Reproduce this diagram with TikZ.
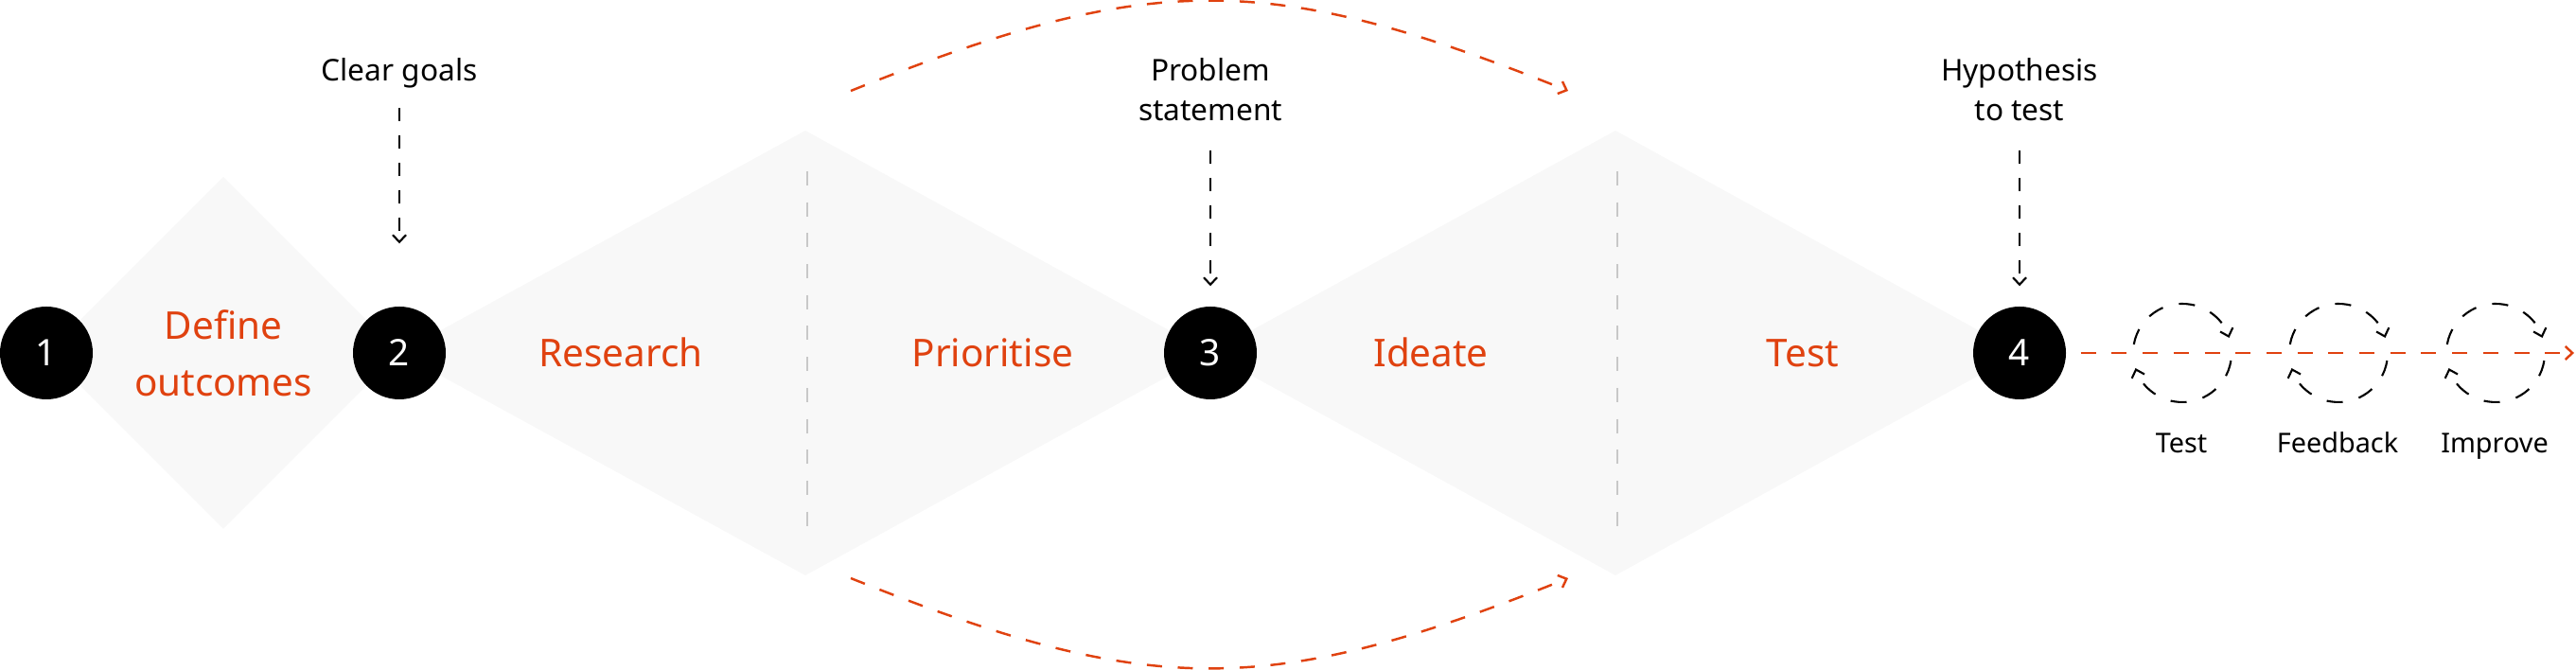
\documentclass[tikz,border=0pt]{standalone}
\usepackage{fontspec}
\setmainfont{Noto Sans}
\usetikzlibrary{arrows.meta,positioning}
\definecolor{flame}{RGB}{224,66,16}
\definecolor{paper}{HTML}{F8F8F8}
\definecolor{rule}{HTML}{C8C8C8}
\tikzset{
  stage/.style={circle, fill=black, text=white, minimum size=0.98cm, inner sep=0pt, font=\fontsize{11}{13}\selectfont},
  phase/.style={text=flame, font=\fontsize{11.5}{17}\selectfont, align=center, inner sep=0pt},
  note/.style={font=\fontsize{9}{12}\selectfont, align=center, inner sep=0pt},
  small/.style={font=\fontsize{8.2}{10}\selectfont, inner sep=0pt},
  input/.style={-{Straight Barb[length=0.75mm,width=1.4mm]}, line width=0.6pt, dash pattern=on 1.4mm off 1.5mm},
  flow/.style={flame, -{Straight Barb[length=0.75mm,width=1.4mm]}, line width=0.7pt, dash pattern=on 1.6mm off 1.67mm},
  loopring/.style={circle, minimum size=1.04cm, inner sep=0pt, outer sep=0pt},
  loopline/.style={line width=0.6pt, dash pattern=on 1.7mm off 1.75mm, -{Straight Barb[length=0.75mm,width=1.4mm]}},
}
\begin{document}
\begin{tikzpicture}
  \useasboundingbox (0,0) rectangle (27.22,7.08);
  % diamonds
  \fill [paper] (0.50,3.35)--(2.36,5.21)--(4.22,3.35)--(2.36,1.49)--cycle;
  \fill [paper] (4.22,3.35)--(8.51,5.70)--(12.79,3.35)--(8.51,1.00)--cycle;
  \fill [paper] (12.79,3.35)--(17.07,5.70)--(21.34,3.35)--(17.07,1.00)--cycle;
  \draw [rule, line width=0.5pt, dash pattern=on 1.5mm off 1.77mm] (8.53,5.27)--(8.53,1.44);
  \draw [rule, line width=0.5pt, dash pattern=on 1.5mm off 1.77mm] (17.09,5.27)--(17.09,1.44);

  % divergent / convergent loops
  \coordinate (topfrom) at (8.99,6.12);
  \coordinate (topto) at (16.57,6.12);
  \coordinate (botfrom) at (8.99,0.97);
  \coordinate (botto) at (16.57,0.97);
  \draw [flow] (topfrom) .. controls (12.16,7.39) and (13.40,7.39) .. (topto);
  \draw [flow] (botfrom) .. controls (12.16,-0.30) and (13.40,-0.30) .. (botto);

  % stages
  \node [stage] (s1) at (0.49,3.35) {1};
  \node [stage] (s2) at (4.22,3.35) {2};
  \node [stage] (s3) at (12.79,3.35) {3};
  \node [stage] (s4) at (21.34,3.35) {4};

  \node [phase] (define) at (2.36,3.35) {Define\\outcomes};
  \node [phase, anchor=base] (research) at (6.56,3.20) {Research};
  \node [phase, anchor=base] (prioritise) at (10.49,3.20) {Prioritise};
  \node [phase, anchor=base] (ideate) at (15.12,3.20) {Ideate};
  \node [phase, anchor=base] (testphase) at (19.05,3.20) {Test};

  % inputs
  \node [note, anchor=north] (goals) at (4.22,6.47) {Clear goals};
  \node [note, anchor=north] (problem) at (12.79,6.47) {Problem\\statement};
  \node [note, anchor=north] (hypothesis) at (21.34,6.47) {Hypothesis\\to test};
  \draw [input, shorten <=0.2cm, shorten >=0.66cm] (goals) -- (s2);
  \draw [input, shorten <=0.3cm, shorten >=0.21cm] (problem) -- (s3);
  \draw [input, shorten <=0.3cm, shorten >=0.21cm] (hypothesis) -- (s4);

  % iterate
  \coordinate (exit) at (27.20,3.35);
  \draw [flow, shorten <=0.15cm] (s4) -- (exit);
  \node [loopring] (test) at (23.06,3.35) {};
  \node [loopring] (feedback) at (24.71,3.35) {};
  \node [loopring] (improve) at (26.37,3.35) {};
  \foreach \r in {test,feedback,improve} {
    \draw [loopline] (\r.170) arc [start angle=170, end angle=18, radius=0.52cm];
    \draw [loopline] (\r.-9) arc [start angle=-9, end angle=-162, radius=0.52cm];
  }
  \node [small, anchor=base] (testlbl) at (23.05,2.29) {Test};
  \node [small, anchor=base] (feedbacklbl) at (24.70,2.29) {Feedback};
  \node [small, anchor=base] (improvelbl) at (26.36,2.29) {Improve};
\end{tikzpicture}
\end{document}
